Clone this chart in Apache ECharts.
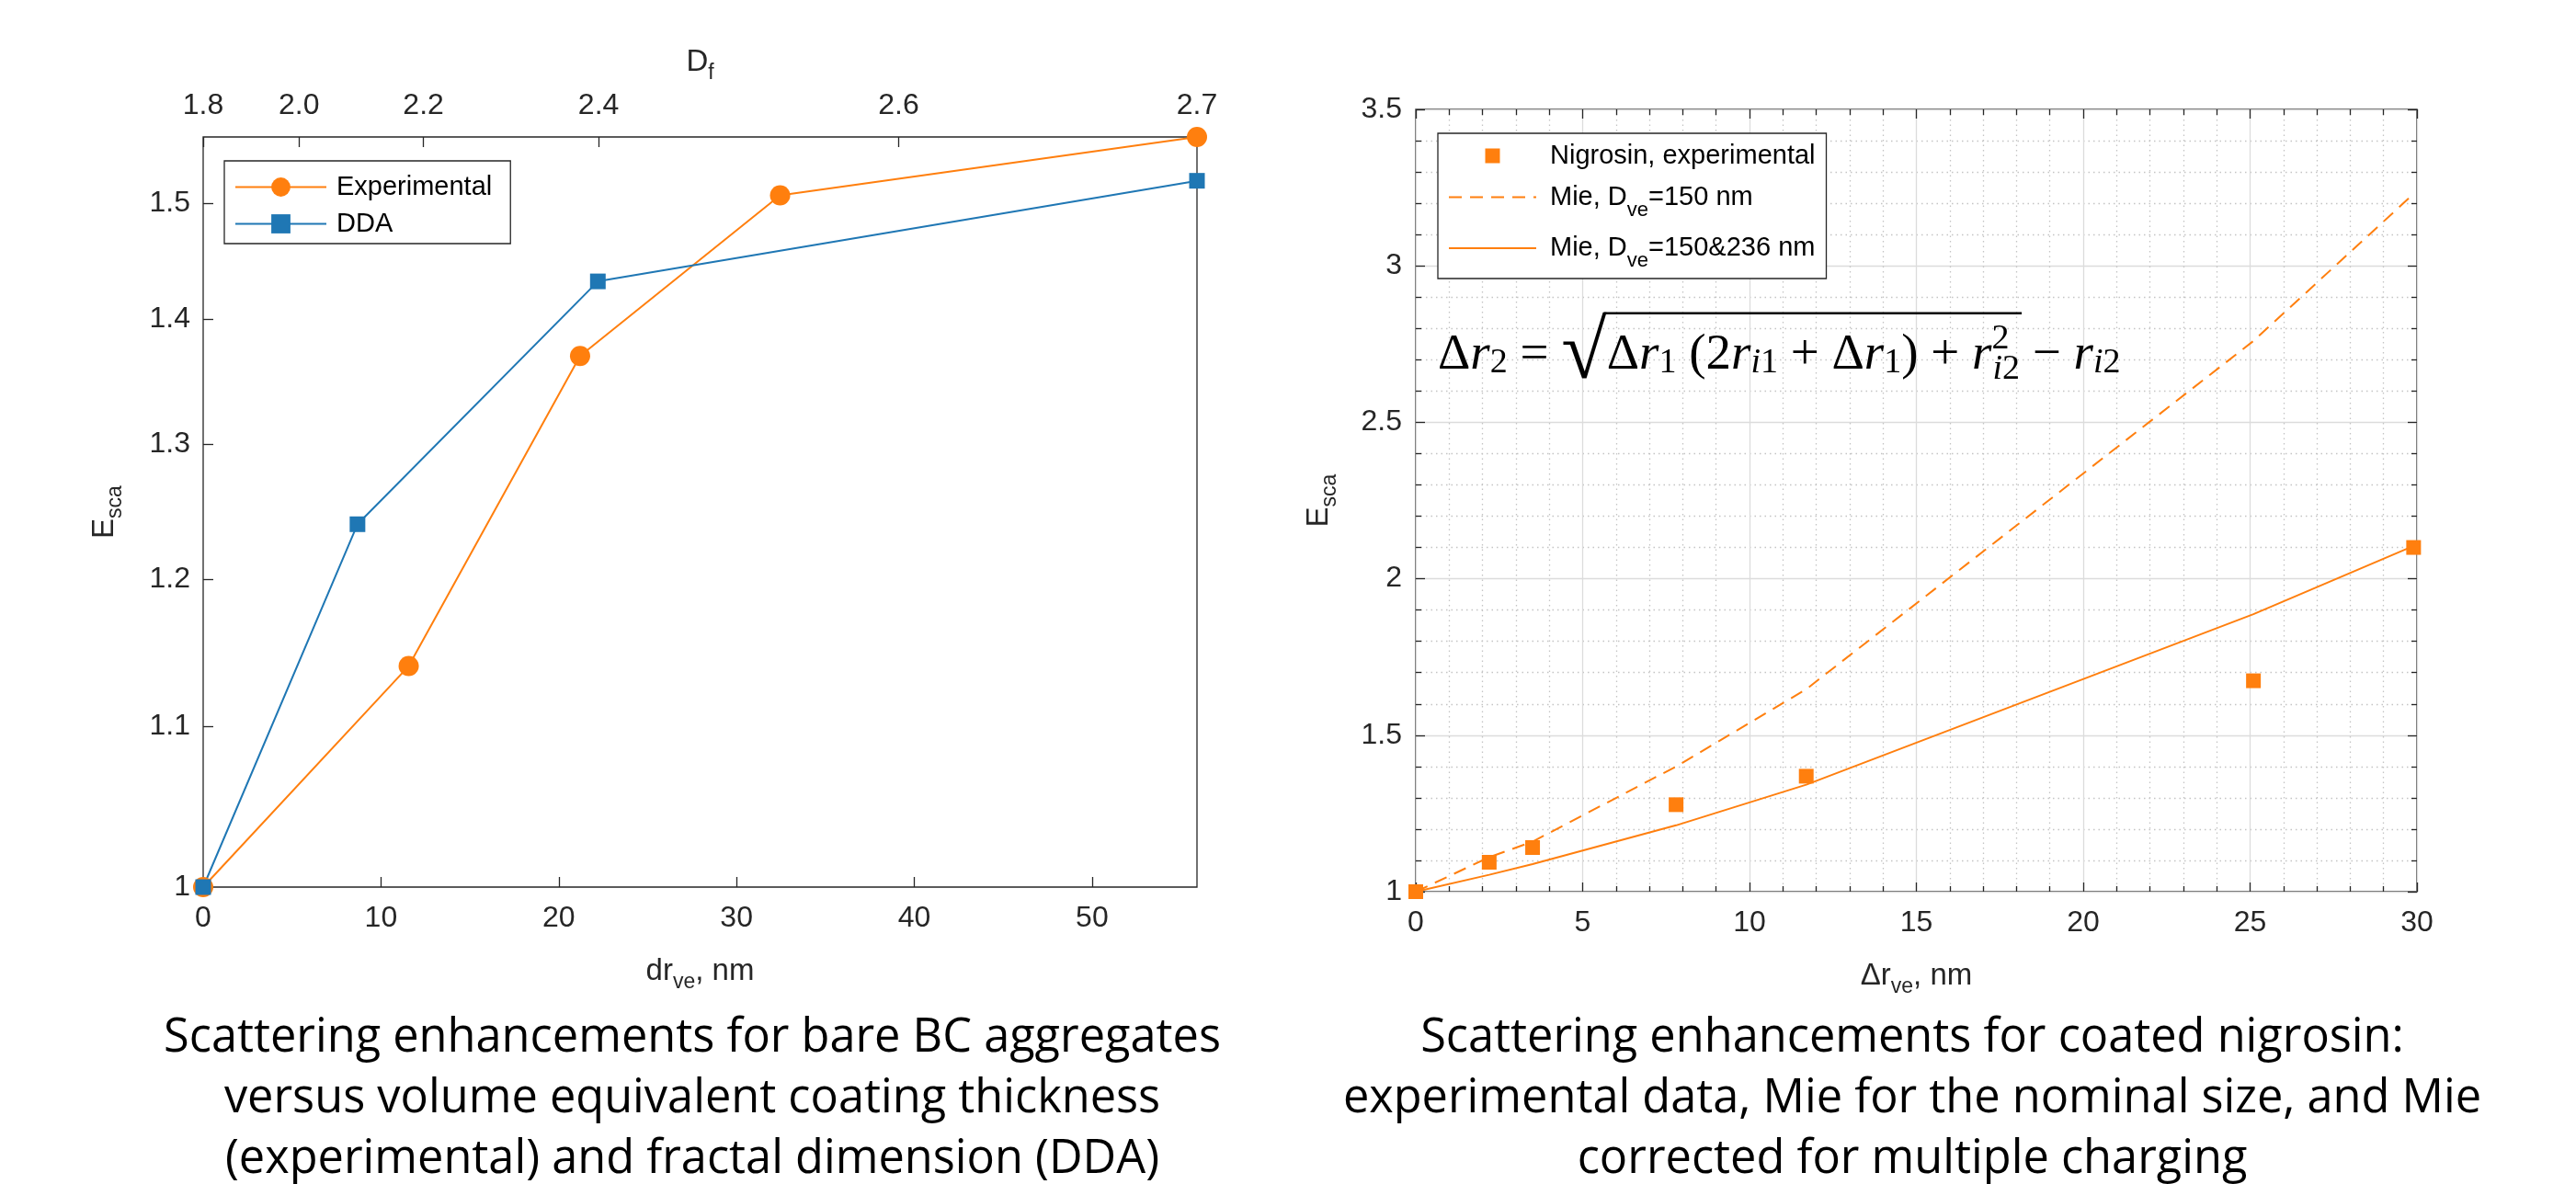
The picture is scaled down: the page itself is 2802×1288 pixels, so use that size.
<!DOCTYPE html>
<html>
<head>
<meta charset="utf-8">
<script src="https://cdn.jsdelivr.net/npm/echarts@6/dist/echarts.min.js"></script>
<style>
  html, body { margin: 0; padding: 0; background: #fff; }
  #chart { width: 2802px; height: 1288px; }
</style>
</head>
<body>
<div id="chart"></div>
<script>
// left panel: bare BC aggregates (dr_ve in nm, E_sca on a log axis)
const expX = [0, 11.56, 21.2, 32.45, 55.9]
const expY = [1, 1.14, 1.37, 1.507, 1.56]
const ddaX = [0, 8.68, 22.2, 55.9]
const ddaY = [1, 1.24, 1.432, 1.52]
const leftXTicks = [0, 10, 20, 30, 40, 50]
const leftYTicks = [1, 1.1, 1.2, 1.3, 1.4, 1.5]
// fractal dimension axis on top, tick positions given in dr_ve units
const dfLabels = ['1.8', '2.0', '2.2', '2.4', '2.6', '2.7']
const dfPos = [0, 5.39, 12.39, 22.24, 39.12, 55.9]

// right panel: coated nigrosin
const nigX = [0, 2.2, 3.5, 7.8, 11.7, 25.1, 29.9]
const nigExp = [1.0, 1.094, 1.141, 1.278, 1.369, 1.674, 2.10]
const mie150 = [1.0, 1.11, 1.16, 1.40, 1.647, 2.76, 3.23]
const mie150236 = [1.0, 1.054, 1.088, 1.212, 1.342, 1.887, 2.105]

const leftCaption = [
  'Scattering enhancements for bare BC aggregates',
  'versus volume equivalent coating thickness',
  '(experimental) and fractal dimension (DDA)'
]
const rightCaption = [
  'Scattering enhancements for coated nigrosin:',
  'experimental data, Mie for the nominal size, and Mie',
  'corrected for multiple charging'
]

// Δr2 = sqrt(Δr1 (2 r_i1 + Δr1) + r_i2^2) - r_i2, as [style, text] pieces
const formulaHead = [['n', 'Δ'], ['i', 'r'], ['s', '2'], ['n', ' = ']]
const formulaRoot = [['q', '√']]
const formulaUnder = [
  ['n', 'Δ'], ['i', 'r'], ['s', '1'], ['n', ' (2'], ['i', 'r'], ['si', 'i'], ['s', '1'],
  ['n', ' + Δ'], ['i', 'r'], ['s', '1'], ['n', ') + '], ['i', 'r'], ['p', '2'], ['si2', 'i'], ['s2', '2']
]
const formulaTail = [['n', ' − '], ['i', 'r'], ['si', 'i'], ['s', '2']]

const pairs = (xs, ys) => xs.map((x, i) => [x, ys[i]])

const SANS = 'Liberation Sans, Arial, Helvetica, sans-serif'
const SERIF = 'Liberation Serif'
const AX = '#262626'
const ORANGE = '#FF7F0E'
const BLUE = '#1F77B4'

const tick = (len) => ({ show: true, inside: true, length: len, lineStyle: { color: AX, width: 1.3 } })
const nameStyle = (size) => ({
  fontSize: size, color: AX, fontFamily: SANS,
  rich: { sub: { fontSize: Math.round(size * 0.7), color: AX, fontFamily: SANS, padding: [24, 0, 0, 0] } }
})
const labelStyle = (size, margin) => ({ fontSize: size, color: AX, fontFamily: SANS, margin: margin })

// formula styles
const FS = 55
const fRich = {
  n: { fontFamily: SERIF, fontSize: FS, fill: '#000' },
  i: { fontFamily: SERIF, fontSize: FS, fontStyle: 'italic', fill: '#000' },
  s: { fontFamily: SERIF, fontSize: 38, fill: '#000', padding: [16, 0, 0, 0] },
  si: { fontFamily: SERIF, fontSize: 38, fontStyle: 'italic', fill: '#000', padding: [16, 0, 0, 0] },
  s2: { fontFamily: SERIF, fontSize: 38, fill: '#000', padding: [30, 0, 0, 0] },
  si2: { fontFamily: SERIF, fontSize: 38, fontStyle: 'italic', fill: '#000', padding: [30, 0, 0, 0] },
  p: { fontFamily: SERIF, fontSize: 38, fill: '#000', padding: [0, 0, 36, 0], width: 1 },
  q: { fontFamily: SERIF, fontSize: 90, fill: '#000' }
}
const ctx = document.createElement('canvas').getContext('2d')
const measure = (pieces) => pieces.reduce((w, [st, t]) => {
  const r = fRich[st]
  if (r.width != null) return w + r.width
  ctx.font = (r.fontStyle || 'normal') + ' ' + r.fontSize + 'px "' + r.fontFamily + '"'
  return w + ctx.measureText(t).width
}, 0)
const toRich = (pieces) => pieces.map(([st, t]) => '{' + st + '|' + t + '}').join('')

const FX = 1564
const FY = 387
ctx.font = '90px "' + SERIF + '"'
ctx.textBaseline = 'middle'
const rootM = ctx.measureText('√')
const barX1 = FX + measure(formulaHead) + measure(formulaRoot) - 3
const barX2 = FX + measure(formulaHead) + measure(formulaRoot) + measure(formulaUnder) + 2
const barY = FY - rootM.actualBoundingBoxAscent + 2

const chart = echarts.init(document.getElementById('chart'))

const option = {
  animation: false,
  backgroundColor: '#fff',
  textStyle: { fontFamily: SANS },
  grid: [
    { left: 221, top: 149, width: 1081, height: 816, show: true, borderColor: AX, borderWidth: 1.3, backgroundColor: 'transparent', containLabel: false, outerBoundsMode: 'none' },
    { left: 1540, top: 119, width: 1089, height: 851, show: true, borderColor: AX, borderWidth: 1.3, backgroundColor: 'transparent', containLabel: false, outerBoundsMode: 'none' }
  ],
  xAxis: [
    {
      gridIndex: 0, type: 'value', position: 'bottom', min: 0, max: 55.9,
      axisLine: { show: false, onZero: false },
      axisTick: Object.assign(tick(11), { customValues: leftXTicks }),
      axisLabel: Object.assign(labelStyle(32, 18), { customValues: leftXTicks }),
      splitLine: { show: false },
      name: 'dr{sub|ve}, nm', nameLocation: 'middle', nameGap: 68, nameTextStyle: nameStyle(33)
    },
    {
      gridIndex: 0, type: 'value', position: 'top', min: 0, max: 55.9,
      axisLine: { show: false, onZero: false },
      axisTick: Object.assign(tick(11), { customValues: dfPos }),
      axisLabel: Object.assign(labelStyle(32, 18), {
        customValues: dfPos,
        formatter: (v) => {
          let best = 0
          dfPos.forEach((p, i) => { if (Math.abs(p - v) < Math.abs(dfPos[best] - v)) best = i })
          return dfLabels[best]
        }
      }),
      splitLine: { show: false },
      name: 'D{sub|f}', nameLocation: 'middle', nameGap: 58, nameTextStyle: nameStyle(33)
    },
    {
      gridIndex: 1, type: 'value', position: 'bottom', min: 0, max: 30, interval: 5,
      axisLine: { show: false, onZero: false },
      axisTick: tick(10),
      minorTick: { show: true, splitNumber: 5, length: 6, lineStyle: { color: AX, width: 1.3 } },
      axisLabel: labelStyle(32, 18),
      splitLine: { show: true, lineStyle: { color: '#dcdcdc', width: 1.3 } },
      minorSplitLine: { show: true, lineStyle: { color: '#c4c4c4', width: 1.3, type: [1.5, 4] } },
      name: 'Δr{sub|ve}, nm', nameLocation: 'middle', nameGap: 68, nameTextStyle: nameStyle(33)
    },
    {
      gridIndex: 1, type: 'value', position: 'top', min: 0, max: 30, interval: 5,
      axisLine: { show: false, onZero: false },
      axisTick: tick(10),
      minorTick: { show: true, splitNumber: 5, length: 6, lineStyle: { color: AX, width: 1.3 } },
      axisLabel: { show: false },
      splitLine: { show: false }
    }
  ],
  yAxis: [
    {
      gridIndex: 0, type: 'log', logBase: 10, min: 1, max: 1.56,
      axisLine: { show: false, onZero: false },
      axisTick: Object.assign(tick(11), { customValues: leftYTicks }),
      axisLabel: Object.assign(labelStyle(32, 14), {
        customValues: leftYTicks,
        formatter: (v) => String(Math.round(v * 10) / 10)
      }),
      splitLine: { show: false },
      name: 'E{sub|sca}', nameLocation: 'middle', nameGap: 84, nameTextStyle: nameStyle(33)
    },
    {
      gridIndex: 1, type: 'value', position: 'left', min: 1, max: 3.5, interval: 0.5,
      axisLine: { show: false, onZero: false },
      axisTick: tick(10),
      minorTick: { show: true, splitNumber: 5, length: 6, lineStyle: { color: AX, width: 1.3 } },
      axisLabel: labelStyle(32, 15),
      splitLine: { show: true, lineStyle: { color: '#dcdcdc', width: 1.3 } },
      minorSplitLine: { show: true, lineStyle: { color: '#c4c4c4', width: 1.3, type: [1.5, 4] } },
      name: 'E{sub|sca}', nameLocation: 'middle', nameGap: 82, nameTextStyle: nameStyle(33)
    },
    {
      gridIndex: 1, type: 'value', position: 'right', min: 1, max: 3.5, interval: 0.5,
      axisLine: { show: false, onZero: false },
      axisTick: tick(10),
      minorTick: { show: true, splitNumber: 5, length: 6, lineStyle: { color: AX, width: 1.3 } },
      axisLabel: { show: false },
      splitLine: { show: false }
    }
  ],
  legend: [
    {
      data: ['Experimental', 'DDA'],
      orient: 'vertical', left: 244, top: 175,
      padding: [14, 20, 7, 11], itemGap: 11,
      itemWidth: 99, itemHeight: 26,
      backgroundColor: '#fff', borderColor: AX, borderWidth: 1.3,
      selectedMode: false,
      textStyle: { fontSize: 29, color: '#000', fontFamily: SANS, padding: [0, 0, 0, 6] }
    },
    {
      data: [
        { name: 'Nigrosin, experimental', icon: 'path://M0,0h10v10h-10z' },
        { name: 'Mie, Dve=150 nm', itemStyle: { opacity: 0 }, lineStyle: { type: [14, 9], width: 2, color: ORANGE } },
        { name: 'Mie, Dve=150&236 nm', itemStyle: { opacity: 0 }, lineStyle: { type: 'solid', width: 2, color: ORANGE } }
      ],
      orient: 'vertical', left: 1564, top: 145,
      padding: [10, 12, 8, 11], itemGap: 16,
      itemWidth: 95, itemHeight: 16,
      backgroundColor: '#fff', borderColor: AX, borderWidth: 1.3,
      selectedMode: false,
      formatter: (name) => name.replace('Dve', 'D{sub|ve}'),
      textStyle: {
        fontSize: 29, color: '#000', fontFamily: SANS, padding: [0, 0, 0, 10],
        rich: { sub: { fontSize: 22, color: '#000', fontFamily: SANS, padding: [28, 0, 0, 0] } }
      }
    }
  ],
  series: [
    {
      name: 'Experimental', type: 'line', xAxisIndex: 0, yAxisIndex: 0,
      data: pairs(expX, expY), symbol: 'circle', symbolSize: 22,
      color: ORANGE, lineStyle: { width: 2, color: ORANGE }, clip: false
    },
    {
      name: 'DDA', type: 'line', xAxisIndex: 0, yAxisIndex: 0,
      data: pairs(ddaX, ddaY), symbol: 'rect', symbolSize: 17,
      color: BLUE, lineStyle: { width: 2, color: BLUE }, clip: false
    },
    {
      name: 'Mie, Dve=150 nm', type: 'line', xAxisIndex: 2, yAxisIndex: 1,
      data: pairs(nigX, mie150), symbol: 'none',
      color: ORANGE, lineStyle: { width: 2, color: ORANGE, type: [14, 9] }
    },
    {
      name: 'Mie, Dve=150&236 nm', type: 'line', xAxisIndex: 2, yAxisIndex: 1,
      data: pairs(nigX, mie150236), symbol: 'none',
      color: ORANGE, lineStyle: { width: 2, color: ORANGE }
    },
    {
      name: 'Nigrosin, experimental', type: 'scatter', xAxisIndex: 2, yAxisIndex: 1,
      data: pairs(nigX, nigExp), symbol: 'rect', symbolSize: 16,
      color: ORANGE, itemStyle: { color: ORANGE, opacity: 1 }, clip: false, z: 4
    }
  ],
  graphic: [
    {
      type: 'text', x: FX, y: FY, z: 10,
      style: {
        text: toRich(formulaHead) + toRich(formulaRoot) + toRich(formulaUnder) + toRich(formulaTail),
        fontFamily: SERIF, fontSize: FS, fill: '#000',
        textAlign: 'left', textVerticalAlign: 'middle', align: 'left', verticalAlign: 'middle',
        rich: fRich
      }
    },
    {
      type: 'line', z: 10,
      shape: { x1: barX1, y1: barY, x2: barX2, y2: barY },
      style: { stroke: '#000', lineWidth: 2.5 }
    },
    {
      type: 'text', x: 753, y: 1196, z: 10,
      style: {
        text: leftCaption.join('\n'), fontFamily: 'Open Sans', fontSize: 50.5, lineHeight: 66, fill: '#000',
        textAlign: 'center', textVerticalAlign: 'middle', align: 'center', verticalAlign: 'middle'
      }
    },
    {
      type: 'text', x: 2080, y: 1196, z: 10,
      style: {
        text: rightCaption.join('\n'), fontFamily: 'Open Sans', fontSize: 50.5, lineHeight: 66, fill: '#000',
        textAlign: 'center', textVerticalAlign: 'middle', align: 'center', verticalAlign: 'middle'
      }
    }
  ]
}

chart.setOption(option)
</script>
</body>
</html>
